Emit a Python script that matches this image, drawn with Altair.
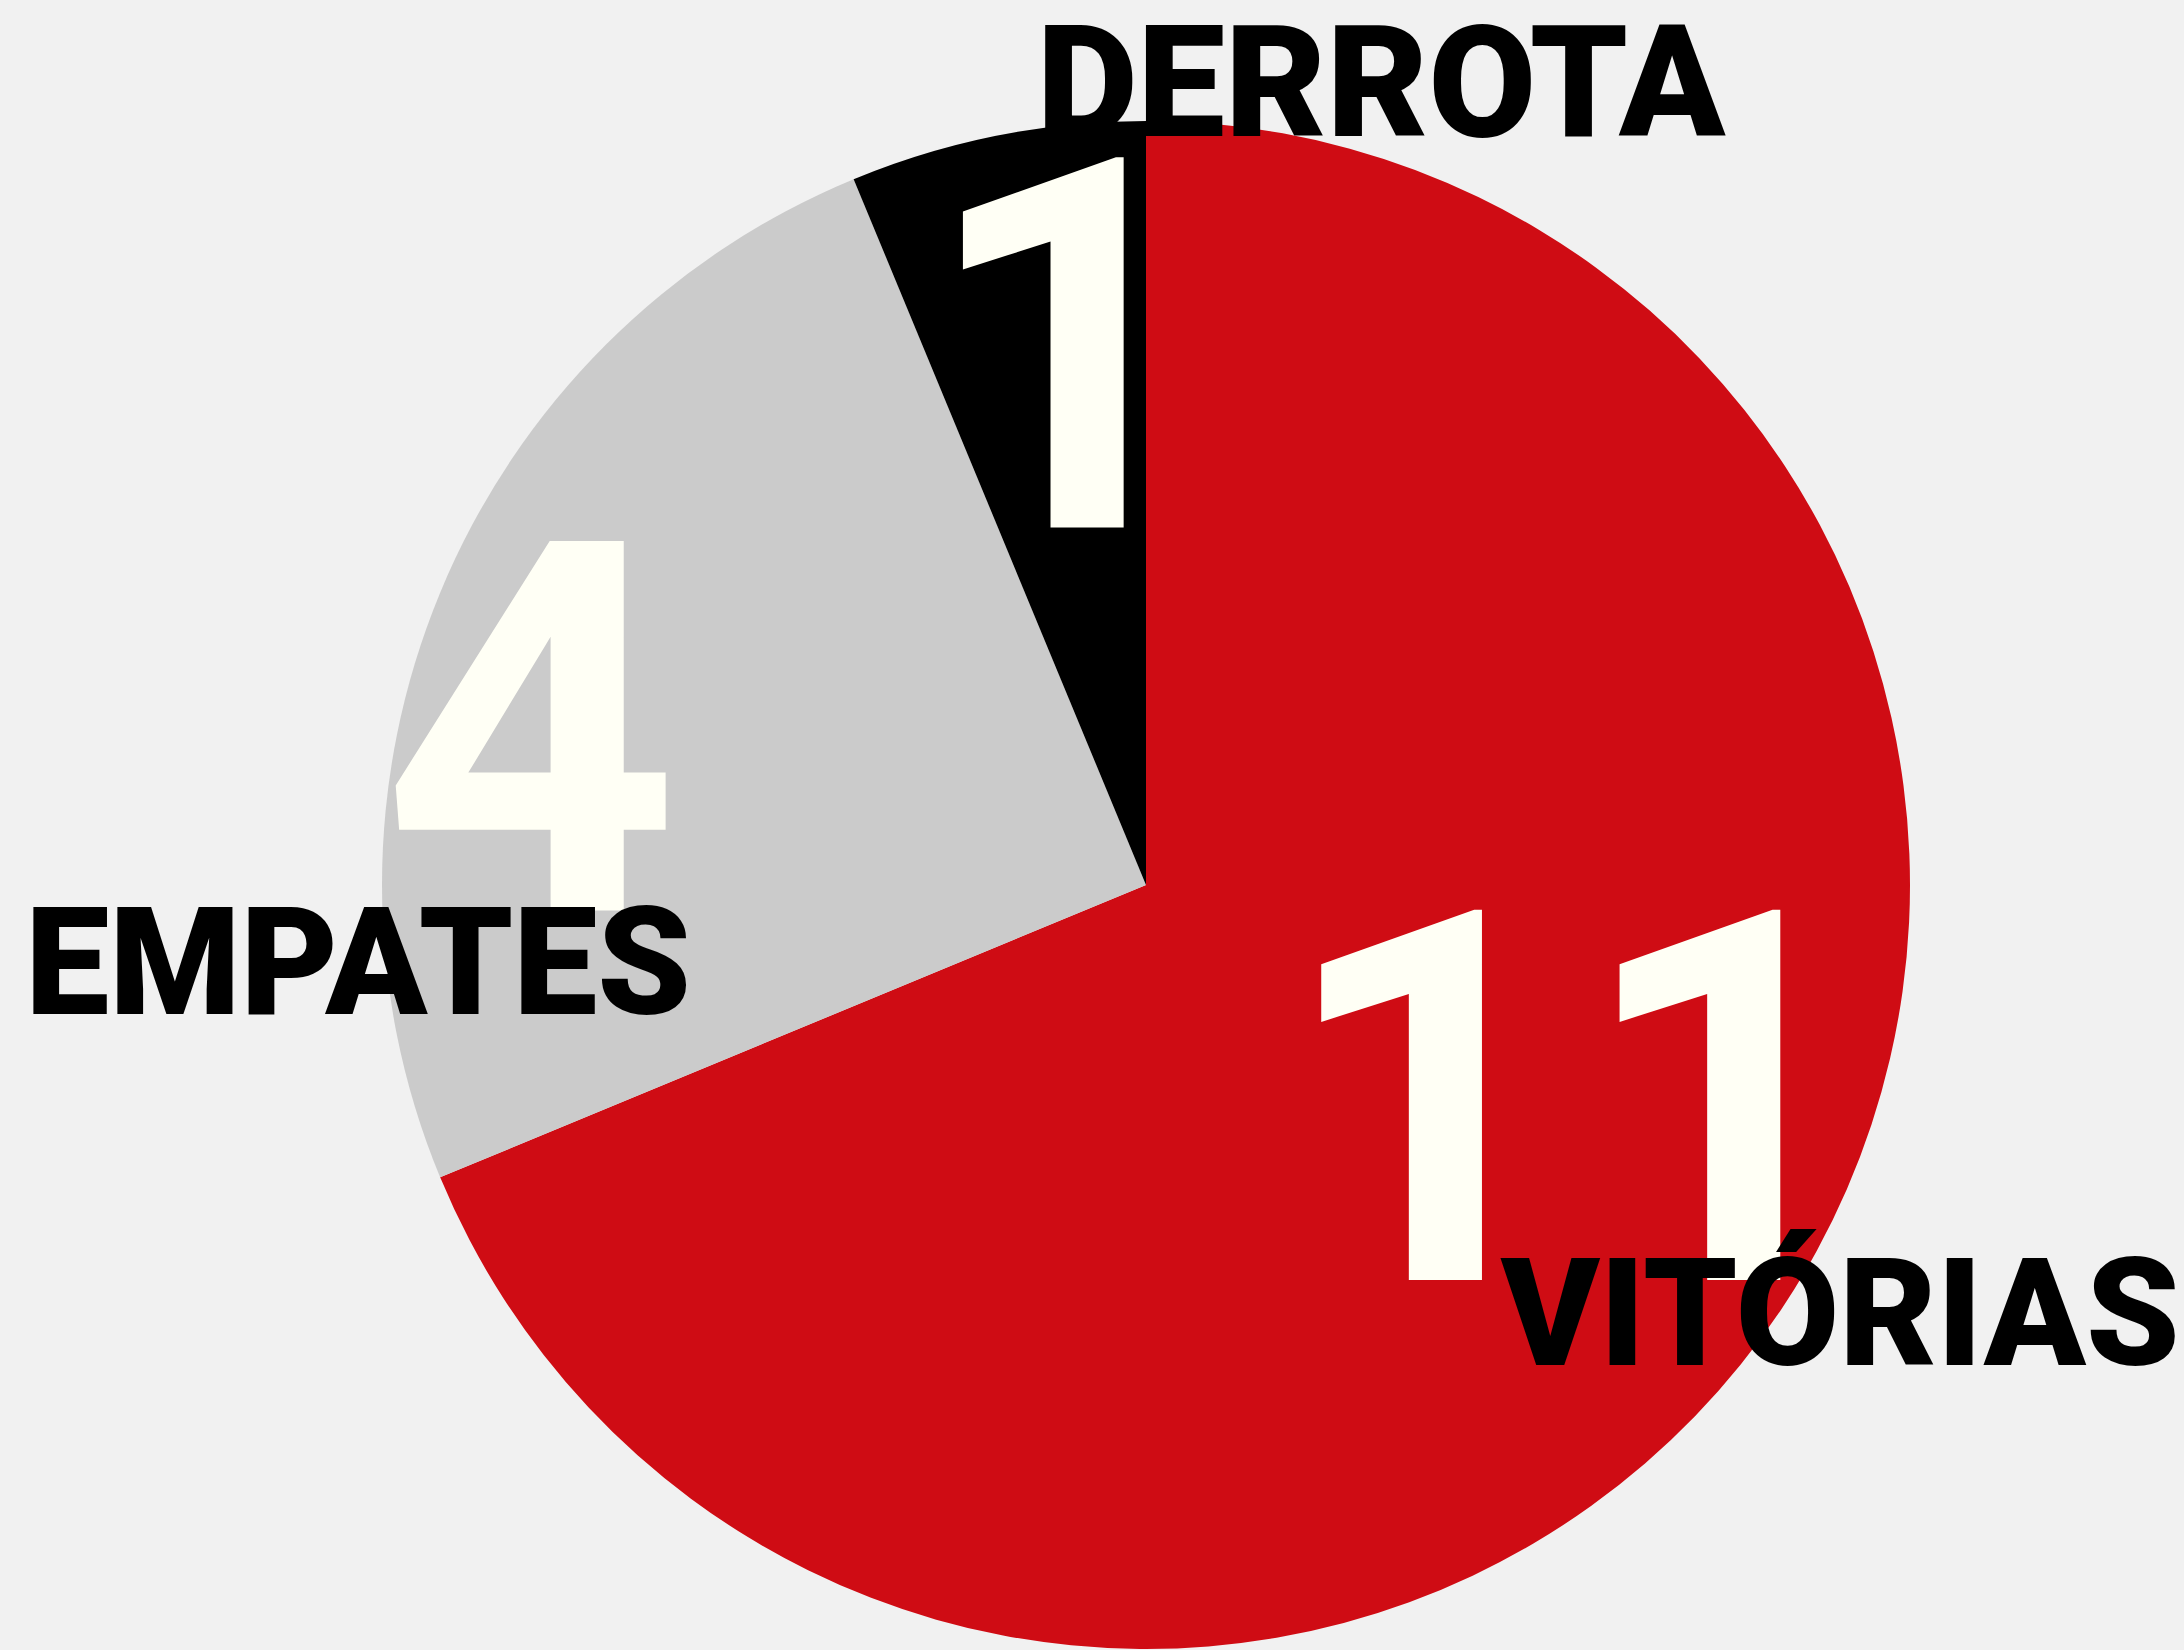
import altair as alt
import pandas as pd

categorias = ["VITÓRIAS", "EMPATES", "DERROTA"]
valores = [11, 4, 1]
ordem = [1, 2, 3]
cores = ["#CF0C14", "#CBCBCB", "#000000"]

df = pd.DataFrame({"categoria": categorias, "valor": valores, "ordem": ordem})

R = 764

base = alt.Chart(df).encode(
    theta=alt.Theta("valor:Q", stack=True),
    order=alt.Order("ordem:Q"),
)

pie = base.mark_arc(outerRadius=R, stroke=None).encode(
    color=alt.Color("categoria:N",
                    scale=alt.Scale(domain=categorias, range=cores),
                    legend=None)
)

NUM_FONT = dict(font="Roboto", fontWeight="bold", fontSize=520,
                color="#FFFFF5", align="center", baseline="middle")
LAB_FONT = dict(font="Roboto", fontWeight=900, fontSize=150,
                color="#000000", align="center", baseline="alphabetic")


def number(cat, radius, dx, dy):
    return base.mark_text(radius=radius, dx=dx, dy=dy, **NUM_FONT).encode(
        text=alt.condition(alt.datum.categoria == cat,
                           alt.Text("valor:Q"), alt.value(""))
    )


def label(cat, radius, dx, dy, size=150):
    opts = dict(LAB_FONT)
    opts["fontSize"] = size
    return base.mark_text(radius=radius, dx=dx, dy=dy, **opts).encode(
        text=alt.condition(alt.datum.categoria == cat,
                           alt.Text("categoria:N"), alt.value(""))
    )


chart = alt.layer(
    pie,
    number("DERROTA", 552, 31, 28),
    number("EMPATES", 636, -28, 113),
    number("VITÓRIAS", 470, 40, -22),
    label("DERROTA", R, 384, 0, 156),
    label("EMPATES", R, -82, 421),
    label("VITÓRIAS", R, 59, 56),
).properties(
    width=2076,
    height=1530,
    padding={"left": 108, "top": 120, "right": 0, "bottom": 0},
    autosize=alt.AutoSizeParams(type="none"),
    background="#F1F1F1",
).configure_view(strokeWidth=0)

chart.save("out.html", embed_options={"renderer": "svg", "actions": False})
